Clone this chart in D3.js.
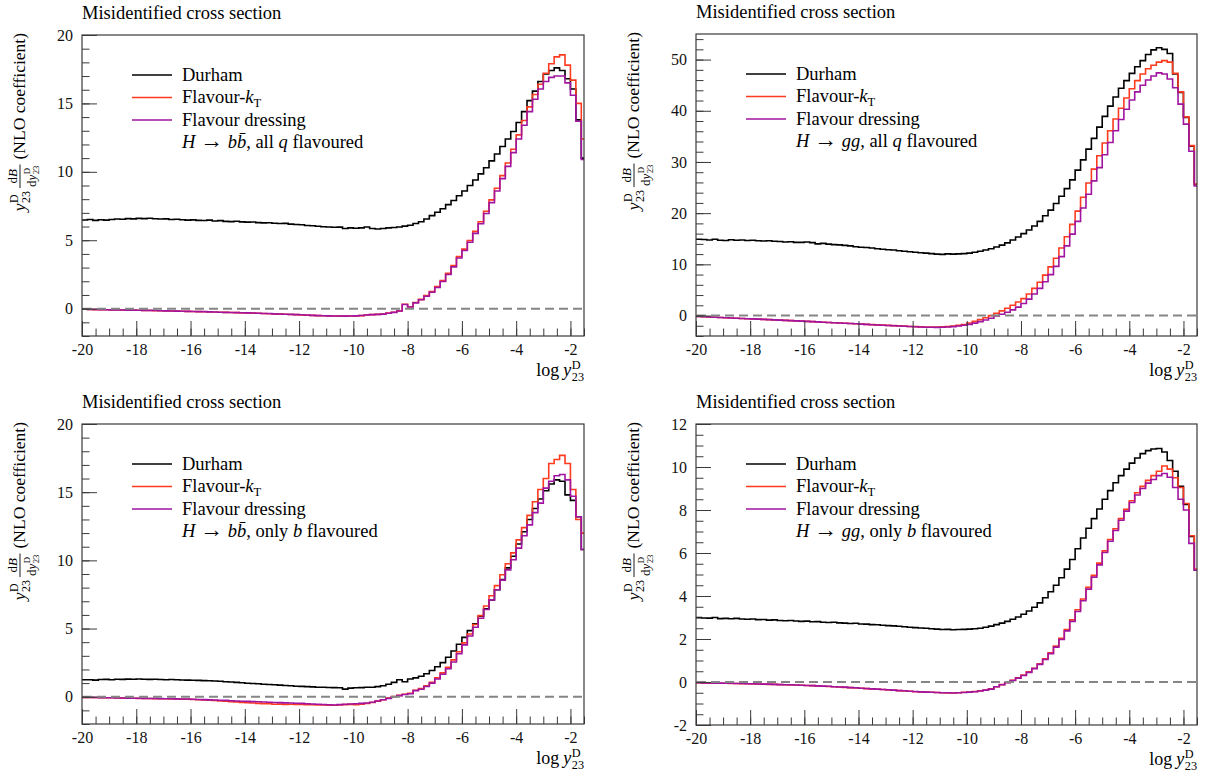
<!DOCTYPE html>
<html>
<head>
<meta charset="utf-8">
<script src="https://cdn.jsdelivr.net/npm/d3@7"></script>
<style>
  body { margin: 0; background: #fff; }
  svg { display: block; }
  svg text { font-family: 'Liberation Serif', 'DejaVu Serif', serif; }
</style>
</head>
<body>
<div id="wrapper"></div>
<script>
// histogram binning: 0.2 wide bins in log y23, first bin starts at -20
const binLow = -20;
const binWidth = 0.2;
const xDomain = [-20, -1.5];
const xMajorTicks = [-20, -18, -16, -14, -12, -10, -8, -6, -4, -2];

// H -> bb, all q flavoured
const bbAllDurham = [
  6.48, 6.52, 6.45, 6.50, 6.47, 6.52, 6.55, 6.53, 6.58, 6.56,
  6.60, 6.58, 6.61, 6.57, 6.55, 6.56, 6.52, 6.53, 6.50, 6.47,
  6.49, 6.45, 6.44, 6.47, 6.40, 6.43, 6.38, 6.36, 6.39, 6.34,
  6.32, 6.33, 6.29, 6.27, 6.28, 6.24, 6.22, 6.23, 6.18, 6.15,
  6.13, 6.08, 6.06, 6.02, 5.98, 5.97, 5.95, 5.96, 5.86, 5.90,
  5.88, 5.90, 5.97, 5.86, 5.82, 5.86, 5.90, 5.93, 5.97, 6.03,
  6.10, 6.22, 6.35, 6.55, 6.80, 7.05, 7.30, 7.60, 7.90, 8.25,
  8.60, 9.00, 9.40, 9.85, 10.30, 10.80, 11.30, 11.85, 12.40, 12.95,
  13.60, 14.40, 15.20, 15.90, 16.60, 17.15, 17.40, 17.60, 17.40, 16.80,
  16.05, 13.80, 11.00];
const bbAllKt = [
  -0.05, -0.06, -0.07, -0.07, -0.08, -0.09, -0.10, -0.10, -0.11, -0.12,
  -0.12, -0.13, -0.14, -0.15, -0.15, -0.16, -0.17, -0.18, -0.19, -0.20,
  -0.21, -0.22, -0.23, -0.24, -0.25, -0.26, -0.27, -0.28, -0.29, -0.31,
  -0.32, -0.33, -0.34, -0.35, -0.37, -0.38, -0.40, -0.41, -0.43, -0.44,
  -0.46, -0.48, -0.49, -0.51, -0.52, -0.54, -0.54, -0.55, -0.55, -0.54,
  -0.53, -0.51, -0.47, -0.44, -0.42, -0.39, -0.33, -0.26, -0.16, 0.32,
  0.14, 0.45, 0.68, 0.95, 1.25, 1.62, 2.05, 2.58, 3.15, 3.80,
  4.35, 4.98, 5.65, 6.35, 7.12, 7.95, 8.80, 9.72, 10.65, 11.65,
  12.70, 13.75, 14.75, 15.65, 16.40, 17.20, 17.90, 18.40, 18.55, 17.80,
  16.70, 15.00, 12.40];
const bbAllDressing = [
  -0.05, -0.06, -0.06, -0.07, -0.08, -0.09, -0.09, -0.10, -0.11, -0.11,
  -0.12, -0.13, -0.13, -0.14, -0.15, -0.16, -0.17, -0.18, -0.19, -0.20,
  -0.21, -0.22, -0.22, -0.24, -0.25, -0.26, -0.27, -0.28, -0.29, -0.30,
  -0.31, -0.32, -0.34, -0.35, -0.36, -0.38, -0.39, -0.41, -0.42, -0.44,
  -0.45, -0.47, -0.49, -0.51, -0.52, -0.53, -0.54, -0.54, -0.55, -0.54,
  -0.53, -0.50, -0.46, -0.44, -0.42, -0.40, -0.34, -0.27, -0.17, 0.30,
  0.12, 0.42, 0.65, 0.90, 1.20, 1.55, 1.98, 2.50, 3.05, 3.70,
  4.25, 4.85, 5.50, 6.20, 6.95, 7.75, 8.60, 9.50, 10.40, 11.40,
  12.40, 13.40, 14.40, 15.30, 16.05, 16.60, 16.90, 17.00, 17.00, 16.50,
  15.60, 13.70, 10.90];

// H -> gg, all q flavoured
const ggAllDurham = [
  14.90, 14.85, 14.75, 14.90, 14.70, 14.65, 14.80, 14.70, 14.75, 14.65,
  14.70, 14.60, 14.55, 14.60, 14.50, 14.45, 14.35, 14.40, 14.30, 14.30,
  14.35, 14.25, 14.00, 14.10, 13.95, 13.85, 13.80, 13.70, 13.60, 13.45,
  13.35, 13.30, 13.20, 13.05, 12.95, 12.85, 12.80, 12.65, 12.55, 12.45,
  12.35, 12.25, 12.20, 12.10, 12.00, 11.95, 12.05, 12.00, 12.05, 12.10,
  12.20, 12.35, 12.55, 12.80, 13.05, 13.40, 13.75, 14.20, 14.75, 15.35,
  16.00, 16.70, 17.50, 18.40, 19.50, 20.60, 21.90, 23.30, 24.80, 26.50,
  28.40, 30.40, 32.50, 34.60, 36.80, 38.90, 40.90, 42.70, 44.40, 45.90,
  47.30, 48.60, 49.80, 51.00, 51.90, 52.30, 52.00, 51.20, 47.20, 43.60,
  38.70, 33.10, 25.60];
const ggAllKt = [
  -0.20, -0.24, -0.29, -0.33, -0.38, -0.43, -0.47, -0.52, -0.57, -0.62,
  -0.67, -0.71, -0.76, -0.81, -0.86, -0.90, -0.95, -1.00, -1.05, -1.10,
  -1.15, -1.20, -1.25, -1.30, -1.35, -1.41, -1.46, -1.51, -1.56, -1.62,
  -1.67, -1.72, -1.78, -1.83, -1.88, -1.93, -1.98, -2.03, -2.08, -2.13,
  -2.17, -2.21, -2.24, -2.26, -2.25, -2.22, -2.16, -2.06, -1.92, -1.74,
  -1.45, -1.15, -0.80, -0.42, -0.02, 0.42, 0.90, 1.42, 2.00, 2.65,
  3.30, 4.20, 5.30, 6.50, 7.90, 9.50, 11.20, 13.20, 15.40, 17.80,
  20.40, 23.10, 25.90, 28.60, 31.20, 33.70, 36.10, 38.40, 40.50, 42.50,
  44.30, 45.90, 47.20, 48.20, 48.90, 49.50, 49.80, 49.50, 47.30, 43.70,
  38.80, 33.20, 25.70];
const ggAllDressing = [
  -0.20, -0.25, -0.29, -0.34, -0.38, -0.43, -0.48, -0.52, -0.57, -0.62,
  -0.66, -0.71, -0.76, -0.80, -0.85, -0.90, -0.95, -1.00, -1.04, -1.09,
  -1.14, -1.19, -1.25, -1.30, -1.35, -1.40, -1.46, -1.51, -1.57, -1.62,
  -1.68, -1.73, -1.79, -1.84, -1.90, -1.95, -2.00, -2.05, -2.10, -2.15,
  -2.20, -2.24, -2.28, -2.30, -2.31, -2.29, -2.25, -2.17, -2.05, -1.90,
  -1.72, -1.48, -1.20, -0.88, -0.52, -0.10, 0.25, 0.65, 1.10, 1.65,
  2.35, 3.20, 4.20, 5.30, 6.60, 8.00, 9.60, 11.50, 13.60, 15.90,
  18.40, 21.00, 23.70, 26.30, 28.90, 31.40, 33.80, 36.10, 38.30, 40.30,
  42.10, 43.70, 45.00, 46.00, 46.80, 47.40, 47.20, 46.20, 44.50, 41.30,
  37.40, 32.10, 25.30];

// H -> bb, only b flavoured
const bbOnlyDurham = [
  1.24, 1.25, 1.22, 1.26, 1.27, 1.25, 1.28, 1.27, 1.29, 1.28,
  1.30, 1.28, 1.27, 1.28, 1.26, 1.25, 1.26, 1.24, 1.23, 1.22,
  1.21, 1.20, 1.18, 1.17, 1.15, 1.13, 1.10, 1.08, 1.05, 1.02,
  0.99, 0.97, 0.95, 0.92, 0.90, 0.88, 0.85, 0.82, 0.80, 0.77,
  0.76, 0.74, 0.72, 0.70, 0.69, 0.68, 0.67, 0.66, 0.56, 0.63,
  0.66, 0.67, 0.70, 0.69, 0.74, 0.80, 0.92, 1.05, 1.24, 1.10,
  1.30, 1.38, 1.50, 1.68, 1.92, 2.20, 2.50, 2.90, 3.35, 3.85,
  4.35, 4.85, 5.35, 5.90, 6.45, 7.10, 7.85, 8.60, 9.45, 10.30,
  11.20, 12.10, 13.00, 13.80, 14.50, 15.10, 15.60, 15.90, 15.80, 14.80,
  14.40, 13.20, 10.80];
const bbOnlyKt = [
  -0.05, -0.06, -0.06, -0.07, -0.08, -0.08, -0.09, -0.10, -0.10, -0.11,
  -0.12, -0.12, -0.13, -0.14, -0.15, -0.15, -0.16, -0.17, -0.18, -0.19,
  -0.20, -0.22, -0.24, -0.26, -0.28, -0.31, -0.33, -0.36, -0.38, -0.42,
  -0.44, -0.46, -0.49, -0.51, -0.52, -0.55, -0.54, -0.56, -0.55, -0.57,
  -0.56, -0.58, -0.59, -0.60, -0.61, -0.62, -0.63, -0.60, -0.58, -0.56,
  -0.58, -0.55, -0.50, -0.42, -0.32, -0.22, -0.10, 0.02, 0.10, 0.18,
  0.25, 0.48, 0.60, 0.80, 1.05, 1.38, 1.75, 2.15, 2.70, 3.30,
  3.95, 4.60, 5.30, 5.95, 6.65, 7.40, 8.15, 8.95, 9.75, 10.55,
  11.50, 12.40, 13.30, 14.30, 15.20, 16.00, 17.10, 17.40, 17.70, 17.10,
  15.20, 13.00, 12.00];
const bbOnlyDressing = [
  -0.05, -0.05, -0.06, -0.07, -0.07, -0.08, -0.09, -0.09, -0.10, -0.11,
  -0.11, -0.12, -0.13, -0.13, -0.14, -0.15, -0.15, -0.16, -0.17, -0.17,
  -0.18, -0.20, -0.21, -0.23, -0.24, -0.26, -0.27, -0.29, -0.31, -0.33,
  -0.34, -0.36, -0.37, -0.39, -0.40, -0.42, -0.43, -0.45, -0.46, -0.48,
  -0.49, -0.51, -0.53, -0.55, -0.57, -0.59, -0.61, -0.58, -0.55, -0.53,
  -0.52, -0.49, -0.46, -0.40, -0.31, -0.22, -0.12, 0.00, 0.08, 0.16,
  0.22, 0.45, 0.55, 0.75, 1.00, 1.30, 1.65, 2.05, 2.55, 3.15,
  3.80, 4.45, 5.10, 5.75, 6.40, 7.10, 7.85, 8.55, 9.30, 10.05,
  10.90, 11.80, 12.60, 13.50, 14.20, 15.30, 15.80, 16.20, 16.30, 15.90,
  14.70, 13.20, 10.80];

// H -> gg, only b flavoured
const ggOnlyDurham = [
  3.00, 2.98, 2.97, 3.00, 2.95, 2.96, 2.94, 2.96, 2.93, 2.92,
  2.93, 2.90, 2.91, 2.88, 2.89, 2.86, 2.85, 2.86, 2.84, 2.82,
  2.83, 2.80, 2.81, 2.78, 2.77, 2.78, 2.75, 2.74, 2.72, 2.73,
  2.70, 2.69, 2.67, 2.66, 2.64, 2.62, 2.61, 2.59, 2.57, 2.55,
  2.53, 2.51, 2.50, 2.48, 2.46, 2.44, 2.45, 2.43, 2.44, 2.45,
  2.46, 2.48, 2.50, 2.55, 2.60, 2.67, 2.74, 2.82, 2.92, 3.02,
  3.15, 3.30, 3.48, 3.68, 3.92, 4.20, 4.50, 4.85, 5.25, 5.70,
  6.20, 6.70, 7.15, 7.60, 8.05, 8.50, 8.90, 9.27, 9.60, 9.90,
  10.18, 10.42, 10.62, 10.76, 10.84, 10.86, 10.70, 10.30, 9.80, 9.10,
  8.26, 6.77, 5.20];
const ggOnlyKt = [
  -0.03, -0.04, -0.05, -0.05, -0.06, -0.06, -0.07, -0.07, -0.08, -0.08,
  -0.09, -0.09, -0.10, -0.11, -0.11, -0.12, -0.13, -0.14, -0.14, -0.15,
  -0.16, -0.17, -0.18, -0.20, -0.21, -0.22, -0.23, -0.25, -0.26, -0.28,
  -0.29, -0.31, -0.32, -0.34, -0.35, -0.37, -0.38, -0.40, -0.42, -0.43,
  -0.45, -0.46, -0.47, -0.48, -0.49, -0.50, -0.51, -0.51, -0.50, -0.48,
  -0.47, -0.44, -0.41, -0.37, -0.32, -0.22, -0.12, -0.02, 0.08, 0.19,
  0.32, 0.47, 0.64, 0.85, 1.08, 1.36, 1.67, 2.03, 2.44, 2.89,
  3.36, 3.86, 4.40, 4.96, 5.53, 6.10, 6.63, 7.13, 7.60, 8.03,
  8.43, 8.80, 9.10, 9.38, 9.60, 9.80, 10.05, 9.90, 9.50, 9.05,
  8.30, 6.80, 5.25];
const ggOnlyDressing = [
  -0.03, -0.04, -0.04, -0.05, -0.05, -0.06, -0.06, -0.07, -0.07, -0.08,
  -0.08, -0.09, -0.10, -0.10, -0.11, -0.12, -0.13, -0.13, -0.14, -0.15,
  -0.16, -0.17, -0.18, -0.19, -0.20, -0.22, -0.23, -0.24, -0.26, -0.27,
  -0.29, -0.30, -0.32, -0.33, -0.35, -0.36, -0.38, -0.40, -0.41, -0.43,
  -0.44, -0.46, -0.47, -0.48, -0.49, -0.50, -0.50, -0.51, -0.50, -0.49,
  -0.47, -0.45, -0.42, -0.38, -0.33, -0.22, -0.13, -0.03, 0.07, 0.18,
  0.30, 0.45, 0.62, 0.82, 1.05, 1.32, 1.62, 1.98, 2.38, 2.82,
  3.28, 3.78, 4.32, 4.88, 5.45, 6.02, 6.55, 7.05, 7.52, 7.95,
  8.35, 8.70, 9.00, 9.25, 9.42, 9.60, 9.70, 9.52, 9.05, 8.50,
  8.00, 6.45, 5.20];

const seriesNames = ["Durham", "Flavour-kT", "Flavour dressing"];
const seriesColors = ["#000000", "#ff3b1f", "#a0149f"];

// process line of each legend: [text, italic]
const procBbAll = [["H", 1], [" \u2192 ", 0], ["b", 1], ["b\u0304", 1], [", all ", 0], ["q", 1], [" flavoured", 0]];
const procGgAll = [["H", 1], [" \u2192 ", 0], ["gg", 1], [", all ", 0], ["q", 1], [" flavoured", 0]];
const procBbOnly = [["H", 1], [" \u2192 ", 0], ["b", 1], ["b\u0304", 1], [", only ", 0], ["b", 1], [" flavoured", 0]];
const procGgOnly = [["H", 1], [" \u2192 ", 0], ["gg", 1], [", only ", 0], ["b", 1], [" flavoured", 0]];

const panels = [
  { left: 82, top: 35, width: 502, height: 301, yDomain: [-2, 20],
    yMajor: [0, 5, 10, 15, 20], yMinorStep: 1,
    series: [bbAllDurham, bbAllKt, bbAllDressing], proc: procBbAll },
  { left: 696, top: 34, width: 501, height: 302, yDomain: [-4, 55],
    yMajor: [0, 10, 20, 30, 40, 50], yMinorStep: 2,
    series: [ggAllDurham, ggAllKt, ggAllDressing], proc: procGgAll },
  { left: 82, top: 424, width: 502, height: 300, yDomain: [-2, 20],
    yMajor: [0, 5, 10, 15, 20], yMinorStep: 1,
    series: [bbOnlyDurham, bbOnlyKt, bbOnlyDressing], proc: procBbOnly },
  { left: 696, top: 424, width: 501, height: 301, yDomain: [-2, 12],
    yMajor: [-2, 0, 2, 4, 6, 8, 10, 12], yMinorStep: 0.5,
    series: [ggOnlyDurham, ggOnlyKt, ggOnlyDressing], proc: procGgOnly },
];

const frameColor = "#3a3a3a";

const svg = d3.select("#wrapper")
  .append("svg")
  .attr("width", 1206)
  .attr("height", 776);

function addText(g, x, y, str, size, italic) {
  const t = g.append("text")
    .attr("x", x)
    .attr("y", y)
    .attr("font-size", size)
    .text(str);
  if (italic) t.attr("font-style", "italic");
  return t.node().getComputedTextLength();
}

// y^D_23 with stacked super- and subscript
function addYD23(g, x, y, size) {
  const w = addText(g, x, y, "y", size, true);
  const s = size * 0.68;
  const wSup = addText(g, x + w + 0.5, y - size * 0.4, "D", s, false);
  const wSub = addText(g, x + w + 0.5, y + size * 0.27, "23", s, false);
  return w + 0.5 + Math.max(wSup, wSub);
}

function drawPanel(p, k) {
  const xScale = d3.scaleLinear().domain(xDomain).range([p.left, p.left + p.width]);
  const yScale = d3.scaleLinear().domain(p.yDomain).range([p.top + p.height, p.top]);

  const clipId = "clip" + k;
  svg.append("clipPath").attr("id", clipId)
    .append("rect")
    .attr("x", p.left).attr("y", p.top)
    .attr("width", p.width).attr("height", p.height);

  // title
  svg.append("text")
    .attr("x", p.left)
    .attr("y", p.top - 16)
    .attr("font-size", 18.5)
    .text("Misidentified cross section");

  // histograms as step lines
  const lineGenerator = d3.line()
    .x((d) => xScale(d[0]))
    .y((d) => yScale(d[1]))
    .curve(d3.curveStepAfter);

  p.series.forEach((values, j) => {
    const pts = values.map((v, i) => [binLow + i * binWidth, v]);
    pts.push([binLow + values.length * binWidth, values[values.length - 1]]);
    svg.append("path")
      .attr("clip-path", `url(#${clipId})`)
      .attr("d", lineGenerator(pts))
      .attr("fill", "none")
      .attr("stroke", seriesColors[j])
      .attr("stroke-width", 1.6);
  });

  // zero reference line
  svg.append("line")
    .attr("x1", xScale(xDomain[0]) + 1)
    .attr("x2", xScale(xDomain[1]) - 1)
    .attr("y1", yScale(0))
    .attr("y2", yScale(0))
    .attr("stroke", "#858585")
    .attr("stroke-width", 2)
    .attr("stroke-dasharray", "9,5");

  // axes (ticks point inward)
  const xMinor = d3.range(-20, -1.49, 0.5);
  const yMinor = d3.range(p.yDomain[0], p.yDomain[1] + 1e-6, p.yMinorStep);

  const styleAxis = (g) => {
    g.select(".domain").remove();
    g.attr("font-family", null).attr("font-size", null);
    g.selectAll("line").attr("stroke", frameColor);
    g.selectAll("text")
      .attr("font-size", 16)
      .attr("fill", "#111");
  };

  svg.append("g")
    .attr("transform", `translate(0,${p.top + p.height})`)
    .call(d3.axisBottom(xScale).tickValues(xMinor).tickSize(-7.5).tickFormat(""))
    .call(styleAxis);
  svg.append("g")
    .attr("transform", `translate(0,${p.top + p.height})`)
    .call(d3.axisBottom(xScale).tickValues(xMajorTicks).tickSize(-15)
      .tickPadding(8).tickFormat((d) => String(d)))
    .call(styleAxis);

  svg.append("g")
    .attr("transform", `translate(${p.left},0)`)
    .call(d3.axisLeft(yScale).tickValues(yMinor).tickSize(-7.5).tickFormat(""))
    .call(styleAxis);
  svg.append("g")
    .attr("transform", `translate(${p.left},0)`)
    .call(d3.axisLeft(yScale).tickValues(p.yMajor).tickSize(-15)
      .tickPadding(9).tickFormat((d) => String(d)))
    .call(styleAxis);

  // frame
  svg.append("rect")
    .attr("x", p.left).attr("y", p.top)
    .attr("width", p.width).attr("height", p.height)
    .attr("fill", "none")
    .attr("stroke", frameColor)
    .attr("stroke-width", 1.2);

  // legend
  const lx = p.left + 50;
  seriesNames.forEach((name, j) => {
    const by = p.top + 45.5 + j * 22.5;
    svg.append("line")
      .attr("x1", lx).attr("x2", lx + 40)
      .attr("y1", by - 5.5).attr("y2", by - 5.5)
      .attr("stroke", seriesColors[j])
      .attr("stroke-width", 1.6);
    const t = svg.append("text")
      .attr("x", lx + 50)
      .attr("y", by)
      .attr("font-size", 18.5);
    if (name === "Flavour-kT") {
      t.append("tspan").text("Flavour-");
      t.append("tspan").attr("font-style", "italic").text("k");
      t.append("tspan").attr("font-size", 12.5).attr("dy", 4).text("T");
    } else {
      t.text(name);
    }
  });
  const proc = svg.append("text")
    .attr("x", lx + 50)
    .attr("y", p.top + 113)
    .attr("font-size", 18.5);
  p.proc.forEach(([s, it]) => {
    if (s.includes("\u2192")) {
      // longer arrow: only the arrow glyph is enlarged, spaces stay normal
      proc.append("tspan").text("\u00a0");
      proc.append("tspan").attr("font-size", 23).text("\u2192");
      proc.append("tspan").text("\u00a0");
    } else {
      proc.append("tspan").attr("font-style", it ? "italic" : "normal").text(s);
    }
  });

  // x axis title, right aligned
  const gx = svg.append("g");
  let wx = addText(gx, 0, 0, "log", 18, false) + 4;
  wx += addYD23(gx, wx, 0, 18);
  gx.attr("transform", `translate(${p.left + p.width - wx},${p.top + p.height + 40})`);

  // y axis title, rotated, aligned to top of axis
  const gy = svg.append("g");
  let cx = addYD23(gy, 0, 0, 17.5) + 3;
  const fs = 13;
  const gNum = gy.append("g");
  const gDen = gy.append("g");
  let wn = addText(gNum, 0, 0, "d", fs, false);
  wn += addText(gNum, wn, 0, "B", fs, true);
  let wd = addText(gDen, 0, 0, "d", fs, false);
  wd += addYD23(gDen, wd, 0, fs);
  const fw = Math.max(wn, wd) + 2;
  gNum.attr("transform", `translate(${cx + (fw - wn) / 2},-8.5)`);
  gDen.attr("transform", `translate(${cx + (fw - wd) / 2},10.5)`);
  gy.append("line")
    .attr("x1", cx).attr("x2", cx + fw)
    .attr("y1", -5).attr("y2", -5)
    .attr("stroke", "#000")
    .attr("stroke-width", 0.9);
  cx += fw + 5;
  cx += addText(gy, cx, 0, "(NLO coefficient)", 17.5, false);
  gy.attr("transform", `translate(${p.left - 57},${p.top - 2 + cx}) rotate(-90)`);
}

panels.forEach(drawPanel);
</script>
</body>
</html>
